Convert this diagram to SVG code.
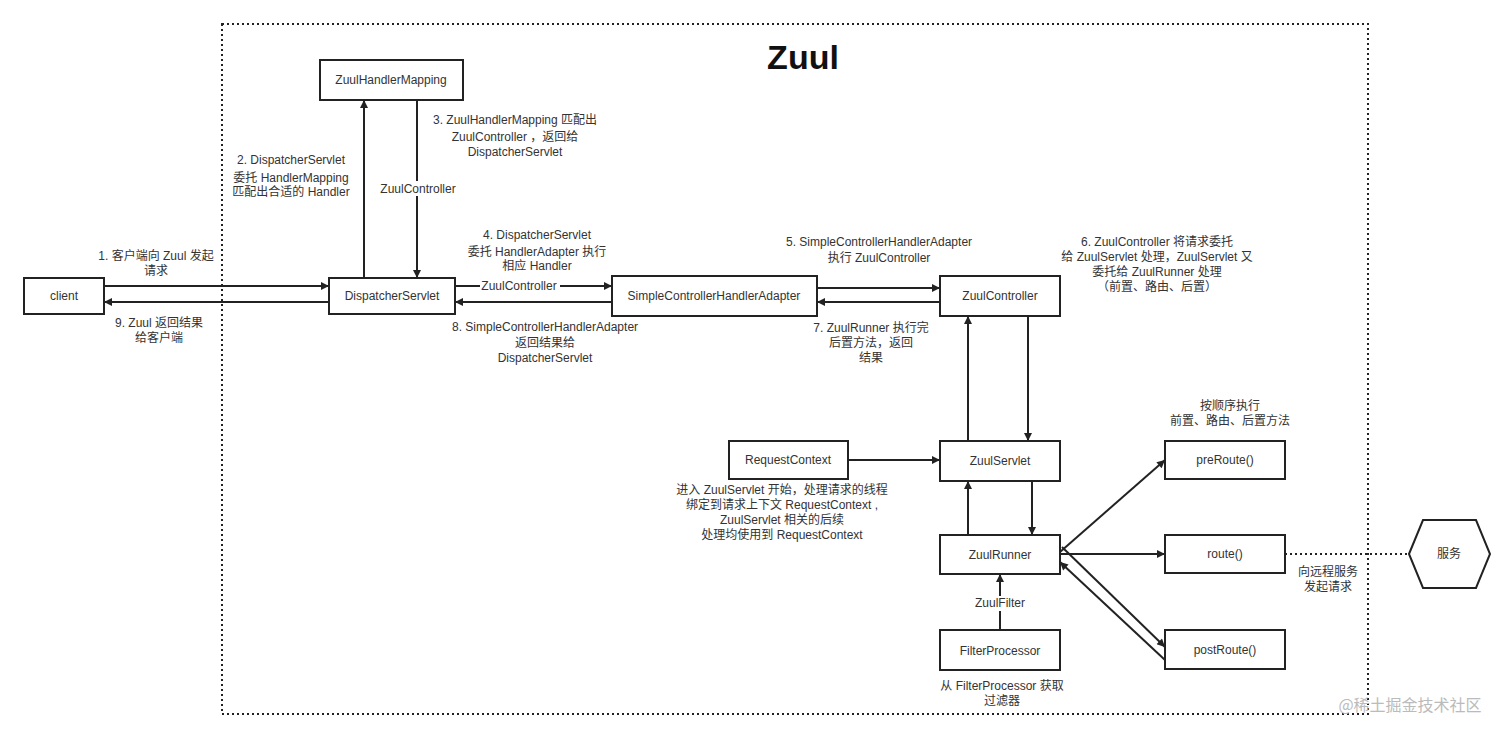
<svg xmlns="http://www.w3.org/2000/svg" width="1512" height="738" viewBox="0 0 1512 738">
<defs>
<marker id="a" viewBox="0 0 10 10" refX="10" refY="5" markerWidth="10" markerHeight="8" orient="auto" markerUnits="userSpaceOnUse"><path d="M0,0 L10,5 L0,10 z" fill="#222"/></marker>
<style>
.b{fill:#fff;stroke:#222;stroke-width:2}
.t{font-family:"Liberation Sans","Noto Sans CJK SC",sans-serif;font-size:12px;fill:#333;text-anchor:middle}
.l{stroke:#222;stroke-width:2;fill:none;marker-end:url(#a)}
.d{stroke:#222;stroke-width:2;stroke-dasharray:2 3;fill:none}
</style>
</defs>
<rect width="1512" height="738" fill="#fff"/>
<rect x="222" y="24" width="1146" height="690" class="d"/>
<text x="803" y="69" font-family="Liberation Sans, sans-serif" font-size="34" font-weight="bold" text-anchor="middle" fill="#111">Zuul</text>
<g id="connectors">
<line x1="104" y1="286" x2="329" y2="286" class="l"/>
<line x1="329" y1="302" x2="104" y2="302" class="l"/>
<line x1="364" y1="278" x2="364" y2="100" class="l"/>
<line x1="417" y1="100" x2="417" y2="278" class="l"/>
<rect x="376" y="181" width="84" height="15" fill="#fff"/>
<text x="418" y="193" class="t">ZuulController</text>
<line x1="455" y1="286" x2="612" y2="286" class="l"/>
<rect x="480" y="279" width="80" height="14" fill="#fff"/>
<text x="519" y="290" class="t">ZuulController</text>
<line x1="612" y1="302" x2="455" y2="302" class="l"/>
<line x1="817" y1="288" x2="940" y2="288" class="l"/>
<line x1="940" y1="302" x2="817" y2="302" class="l"/>
<line x1="968" y1="441" x2="968" y2="316" class="l"/>
<line x1="1028" y1="316" x2="1028" y2="441" class="l"/>
<line x1="848" y1="460" x2="940" y2="460" class="l"/>
<line x1="968" y1="535" x2="968" y2="481" class="l"/>
<line x1="1032" y1="481" x2="1032" y2="535" class="l"/>
<line x1="1060" y1="552" x2="1165" y2="460" class="l"/>
<line x1="1060" y1="554" x2="1165" y2="554" class="l"/>
<line x1="1062" y1="547" x2="1165" y2="647" class="l"/>
<line x1="1165" y1="660" x2="1060" y2="562" class="l"/>
<line x1="1000" y1="630" x2="1000" y2="574" class="l"/>
<rect x="970" y="596" width="60" height="15" fill="#fff"/>
<text x="1000" y="607" class="t">ZuulFilter</text>
<line x1="1285" y1="554" x2="1409" y2="554" class="d"/>
</g>
<g id="client"><rect x="24" y="278" width="80" height="36" class="b"/><text x="64" y="300" class="t">client</text></g>
<g id="DispatcherServlet"><rect x="329" y="278" width="126" height="36" class="b"/><text x="392" y="300" class="t">DispatcherServlet</text></g>
<g id="ZuulHandlerMapping"><rect x="320" y="60" width="143" height="40" class="b"/><text x="391" y="84" class="t">ZuulHandlerMapping</text></g>
<g id="SimpleControllerHandlerAdapter"><rect x="612" y="276" width="205" height="40" class="b"/><text x="714" y="300" class="t">SimpleControllerHandlerAdapter</text></g>
<g id="ZuulController"><rect x="940" y="276" width="120" height="40" class="b"/><text x="1000" y="300" class="t">ZuulController</text></g>
<g id="ZuulServlet"><rect x="940" y="441" width="120" height="40" class="b"/><text x="1000" y="465" class="t">ZuulServlet</text></g>
<g id="ZuulRunner"><rect x="940" y="535" width="120" height="39" class="b"/><text x="1000" y="559" class="t">ZuulRunner</text></g>
<g id="FilterProcessor"><rect x="940" y="630" width="120" height="40" class="b"/><text x="1000" y="655" class="t">FilterProcessor</text></g>
<g id="RequestContext"><rect x="729" y="441" width="119" height="38" class="b"/><text x="788" y="464" class="t">RequestContext</text></g>
<g id="preRoute"><rect x="1165" y="441" width="120" height="38" class="b"/><text x="1225" y="464" class="t">preRoute()</text></g>
<g id="route"><rect x="1165" y="535" width="120" height="38" class="b"/><text x="1225" y="558" class="t">route()</text></g>
<g id="postRoute"><rect x="1165" y="630" width="120" height="39" class="b"/><text x="1225" y="654" class="t">postRoute()</text></g>
<g id="service"><polygon points="1409,554 1423,520 1476,520 1490,554 1476,588 1423,588" class="b"/><text x="1449" y="558" class="t">服务</text></g>
<g id="labels">
<text class="t" x="156" y="260">1. 客户端向 Zuul 发起</text><text class="t" x="156" y="275">请求</text>
<text class="t" x="159" y="327">9. Zuul 返回结果</text><text class="t" x="159" y="342">给客户端</text>
<text class="t" x="291" y="164">2. DispatcherServlet</text><text class="t" x="291" y="182">委托 HandlerMapping</text><text class="t" x="291" y="196">匹配出合适的 Handler</text>
<text class="t" x="515" y="124">3. ZuulHandlerMapping 匹配出</text><text class="t" x="515" y="141">ZuulController ，返回给</text><text class="t" x="515" y="156">DispatcherServlet</text>
<text class="t" x="537" y="239">4. DispatcherServlet</text><text class="t" x="537" y="256">委托 HandlerAdapter  执行</text><text class="t" x="537" y="270">相应 Handler</text>
<text class="t" x="545" y="331">8. SimpleControllerHandlerAdapter</text><text class="t" x="545" y="347">返回结果给</text><text class="t" x="545" y="362">DispatcherServlet</text>
<text class="t" x="879" y="246">5. SimpleControllerHandlerAdapter</text><text class="t" x="879" y="262">执行 ZuulController</text>
<text class="t" x="1157" y="246">6. ZuulController 将请求委托</text><text class="t" x="1157" y="261">给 ZuulServlet 处理，ZuulServlet 又</text><text class="t" x="1157" y="276">委托给 ZuulRunner 处理</text><text class="t" x="1157" y="291">（前置、路由、后置）</text>
<text class="t" x="871" y="332">7. ZuulRunner 执行完</text><text class="t" x="871" y="347">后置方法，返回</text><text class="t" x="871" y="362">结果</text>
<text class="t" x="1230" y="410">按顺序执行</text><text class="t" x="1230" y="425">前置、路由、后置方法</text>
<text class="t" x="782" y="494">进入 ZuulServlet 开始，处理请求的线程</text><text class="t" x="782" y="509">绑定到请求上下文 RequestContext ,</text><text class="t" x="782" y="524">ZuulServlet 相关的后续</text><text class="t" x="782" y="539">处理均使用到 RequestContext</text>
<text class="t" x="1328" y="576">向远程服务</text><text class="t" x="1328" y="591">发起请求</text>
<text class="t" x="1002" y="690">从 FilterProcessor 获取</text><text class="t" x="1002" y="705">过滤器</text>
<text x="1410" y="711" font-family="Noto Sans CJK SC, sans-serif" font-size="16" text-anchor="middle" fill="#bbb">@稀土掘金技术社区</text>
</g>
</svg>
